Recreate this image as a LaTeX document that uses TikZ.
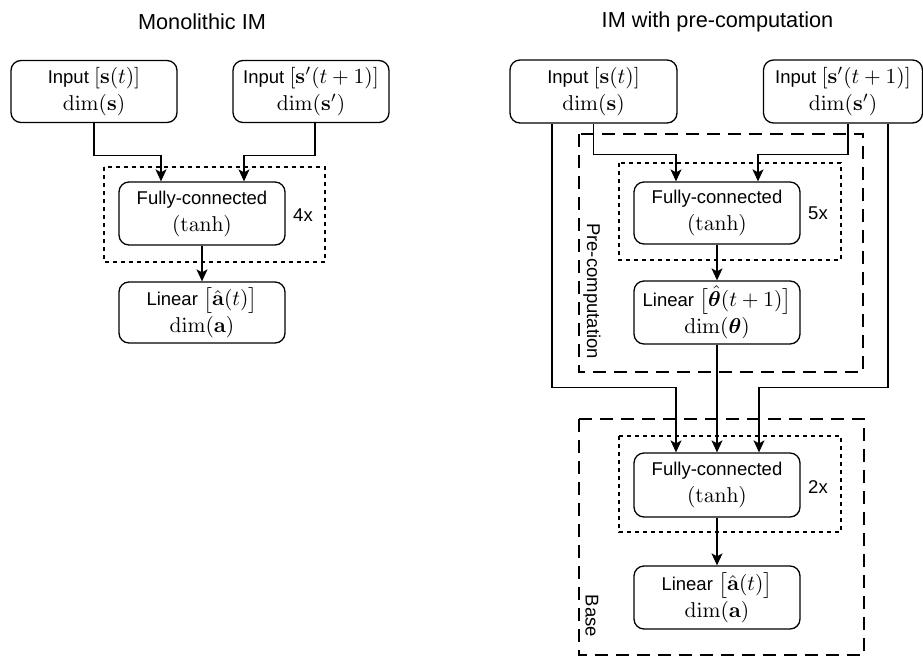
\documentclass[tikz,border=0pt]{standalone}
\usepackage{amsmath,amssymb,bm,graphicx}
\usepackage[no-math]{fontspec}
\setmainfont{Liberation Sans}
\usetikzlibrary{arrows.meta,calc}
\newcommand{\mth}[1]{\scalebox{2.15}{\fontsize{10}{12}\selectfont$#1$}}
\begin{document}
\begin{tikzpicture}[x=1pt,y=1pt,
  blk/.style={draw,line width=1.3pt,rounded corners=10pt,align=center,inner sep=0pt,
    font=\fontsize{18.5}{27}\selectfont},
  lbl/.style={font=\fontsize{18.5}{22}\selectfont,inner sep=0pt},
  ttl/.style={font=\fontsize{21.7}{24}\selectfont,inner sep=0pt},
  arr/.style={line width=1.3pt,-{Stealth[length=12pt,width=11pt,inset=3pt]}},
  dotbox/.style={draw,line width=1.2pt,dash pattern=on 4pt off 4pt},
  dashbox/.style={draw,line width=1.3pt,dash pattern=on 13pt off 8pt}]
\useasboundingbox (0,0) rectangle (923,-656);

% ---------- Left: Monolithic IM ----------
\node[ttl] (tL) at (202,-22) {Monolithic IM};
\draw[dotbox] (104,-167) rectangle (325,-262);
\node[blk,minimum width=166pt,minimum height=62pt] (inL1) at (94,-91.5)
  {Input \mth{[\mathbf{s}(t)]}\\ \mth{\dim(\mathbf{s})}};
\node[blk,minimum width=156pt,minimum height=62pt] (inL2) at (311,-91.5)
  {Input \mth{[\mathbf{s}'(t+1)]}\\ \mth{\dim(\mathbf{s}')}};
\node[blk,minimum width=166pt,minimum height=63pt] (fcL) at (202,-213.5)
  {Fully-connected\\ \mth{(\tanh)}};
\node[blk,minimum width=166pt,minimum height=61pt] (linL) at (202,-312.5)
  {Linear \mth{\big[\hat{\mathbf{a}}(t)\big]}\\ \mth{\dim(\mathbf{a})}};
\node[lbl] (nL) at (303,-215) {4x};
\draw[arr] (inL1.south) -- ++(0,-32) -| ([xshift=-41pt]fcL.north);
\draw[arr] ([xshift=4pt]inL2.south) -- ++(0,-32) -| ([xshift=42pt]fcL.north);
\draw[arr] (fcL) -- (linL);

% ---------- Right: IM with pre-computation ----------
\node[ttl] (tR) at (717.5,-22) {IM with pre-computation};
\draw[dashbox] (579,-134) rectangle (863,-372);
\draw[dashbox] (579,-419) rectangle (864,-655);
\draw[dotbox] (619,-163) rectangle (841,-260);
\draw[dotbox] (619,-436) rectangle (841,-532);
\node[blk,minimum width=167pt,minimum height=63pt] (inR1) at (593.5,-91.5)
  {Input \mth{[\mathbf{s}(t)]}\\ \mth{\dim(\mathbf{s})}};
\node[blk,minimum width=159pt,minimum height=63pt] (inR2) at (843,-91.5)
  {Input \mth{[\mathbf{s}'(t+1)]}\\ \mth{\dim(\mathbf{s}')}};
\node[blk,minimum width=166pt,minimum height=62pt] (fc1) at (717,-213)
  {Fully-connected\\ \mth{(\tanh)}};
\node[blk,minimum width=166pt,minimum height=63pt] (linT) at (717,-312.5)
  {Linear \mth{\big[\hat{\bm{\theta}}(t+1)\big]}\\ \mth{\dim(\bm{\theta})}};
\node[blk,minimum width=166pt,minimum height=64pt] (fc2) at (717,-485)
  {Fully-connected\\ \mth{(\tanh)}};
\node[blk,minimum width=166pt,minimum height=63pt] (linA) at (717,-597.5)
  {Linear \mth{\big[\hat{\mathbf{a}}(t)\big]}\\ \mth{\dim(\mathbf{a})}};
\node[lbl] (n5) at (818,-213) {5x};
\node[lbl] (n2) at (818,-487) {2x};
\node[lbl,rotate=-90] (pre) at (592,-291) {Pre-computation};
\node[lbl,rotate=-90] (base) at (592,-616) {Base};

\draw[arr] (inR1.south) -- ++(0,-31) -| ([xshift=-41pt]fc1.north);
\draw[arr] ([xshift=5pt]inR2.south) -- ++(0,-31) -| ([xshift=41pt]fc1.north);
\draw[arr] ([xshift=-41.5pt]inR1.south) -- ++(0,-264) -| ([xshift=-41pt]fc2.north);
\draw[arr] ([xshift=45pt]inR2.south) -- ++(0,-264) -| ([xshift=42pt]fc2.north);
\draw[arr] (fc1) -- (linT);
\draw[arr] (linT) -- (fc2);
\draw[arr] (fc2) -- (linA);
\end{tikzpicture}
\end{document}
